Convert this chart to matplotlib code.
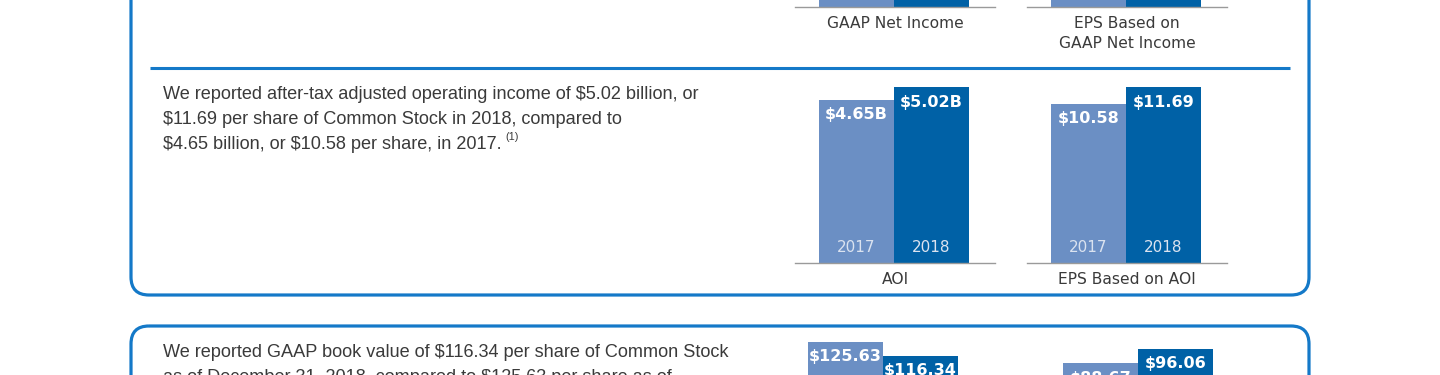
import matplotlib
matplotlib.use("Agg")
import matplotlib.pyplot as plt
from matplotlib.patches import FancyBboxPatch

# ---------------- data ----------------
years = ["2017", "2018"]
gaap_net_income = [7.86, 4.07]      # $B (bars run off the top of the crop)
eps_gaap = [17.86, 9.50]            # $ per share
aoi = [4.65, 5.02]                  # $B
eps_aoi = [10.58, 11.69]            # $ per share
book_value = [125.63, 116.34]       # $ per share
adj_book_value = [88.67, 96.06]     # $ per share

aoi_text = ["We reported after-tax adjusted operating income of \\$5.02 billion, or",
            "\\$11.69 per share of Common Stock in 2018, compared to",
            "\\$4.65 billion, or \\$10.58 per share, in 2017."]
bv_text = ["We reported GAAP book value of \\$116.34 per share of Common Stock",
           "as of December 31, 2018, compared to \\$125.63 per share as of"]

# ---------------- style ----------------
W, H = 1440, 375
BLUE_LINE = "#1479c8"
LIGHT = "#6b8fc4"
DARK = "#0061a6"
YEAR_C = "#dbe3f0"
TXT = "#3a3a3a"
BODY_FONT = ["Liberation Sans", "DejaVu Sans"]
BODY_SIZE = 13.05

fig = plt.figure(figsize=(W / 100, H / 100), dpi=100)
fig.patch.set_facecolor("white")

# overlay axes in pixel coordinates
ov = fig.add_axes([0, 0, 1, 1], zorder=0)
ov.set_xlim(0, W)
ov.set_ylim(H, 0)
ov.axis("off")

lw_box = 2.3
# top box (extends above crop)
ov.add_patch(FancyBboxPatch((131, -80), 1309 - 131, 295 + 80,
                            boxstyle="round,pad=0,rounding_size=18",
                            fc="none", ec=BLUE_LINE, lw=lw_box))
# bottom box (extends below crop)
ov.add_patch(FancyBboxPatch((131, 326), 1309 - 131, 300,
                            boxstyle="round,pad=0,rounding_size=18",
                            fc="none", ec=BLUE_LINE, lw=lw_box))
# divider
ov.plot([150, 1290], [68, 68], color=BLUE_LINE, lw=2.2, solid_capstyle="butt")

# body text
for i, line in enumerate(aoi_text):
    t = ov.text(163, 99 + 25 * i, line, fontsize=BODY_SIZE, family=BODY_FONT,
                color=TXT, va="baseline", ha="left")
fig.canvas.draw()
r = fig.canvas.get_renderer()
bb = t.get_window_extent(r)
ov.text(bb.x1 + 4, 149 - 9, "(1)", fontsize=7.8, family=BODY_FONT,
        color=TXT, va="baseline", ha="left")
for i, line in enumerate(bv_text):
    ov.text(163, 357 + 25 * i, line, fontsize=BODY_SIZE, family=BODY_FONT,
            color=TXT, va="baseline", ha="left")


def px_axes(left, top, right, bottom):
    return fig.add_axes([left / W, 1 - bottom / H, (right - left) / W,
                         (bottom - top) / H], zorder=2)


def bar_chart(values, fmt, left, baseline, maxtop, caption=None, cap_y=None):
    ax = px_axes(left, maxtop, left + 200, baseline)
    ax.set_facecolor("none")
    x = list(range(len(values)))
    ax.bar(x, values, width=1.0, color=[LIGHT, DARK], align="center")
    ax.set_xlim(-0.82, 1.847)
    ax.set_ylim(0, max(values))
    ax.axis("off")
    ax.axhline(0, color="#9a9a9a", lw=1.0, clip_on=False)
    for i, v in enumerate(values):
        ax.annotate(fmt(v), xy=(i, v), xytext=(0, -15 * 0.72),
                    textcoords="offset points", ha="center", va="center",
                    color="white", fontweight="bold", fontsize=11.5,
                    family="DejaVu Sans", annotation_clip=False)
        ax.annotate(years[i], xy=(i, 0), xytext=(0, 16 * 0.72),
                    textcoords="offset points", ha="center", va="center",
                    color=YEAR_C, fontsize=11, family="DejaVu Sans",
                    annotation_clip=False)
    if caption:
        for j, c in enumerate(caption):
            ov.text(left + 100, cap_y + 21 * j, c, ha="center", va="center",
                    fontsize=11.2, color=TXT, family="DejaVu Sans")
    return ax


bil = lambda v: f"\\${v:.2f}B"
dol = lambda v: f"\\${v:.2f}"

bar_chart(gaap_net_income, bil, 795, 7, 7 - 177, ["GAAP Net Income"], 23)
bar_chart(eps_gaap, dol, 1027, 7, 7 - 177, ["EPS Based on", "GAAP Net Income"], 23)
bar_chart(aoi, bil, 795, 263, 87, ["AOI"], 279)
bar_chart(eps_aoi, dol, 1027, 263, 87, ["EPS Based on AOI"], 279)
bar_chart(book_value, dol, 784, 531, 342)
bar_chart(adj_book_value, dol, 1039, 531, 349)

fig.savefig("out.png", dpi=100, facecolor="white")
